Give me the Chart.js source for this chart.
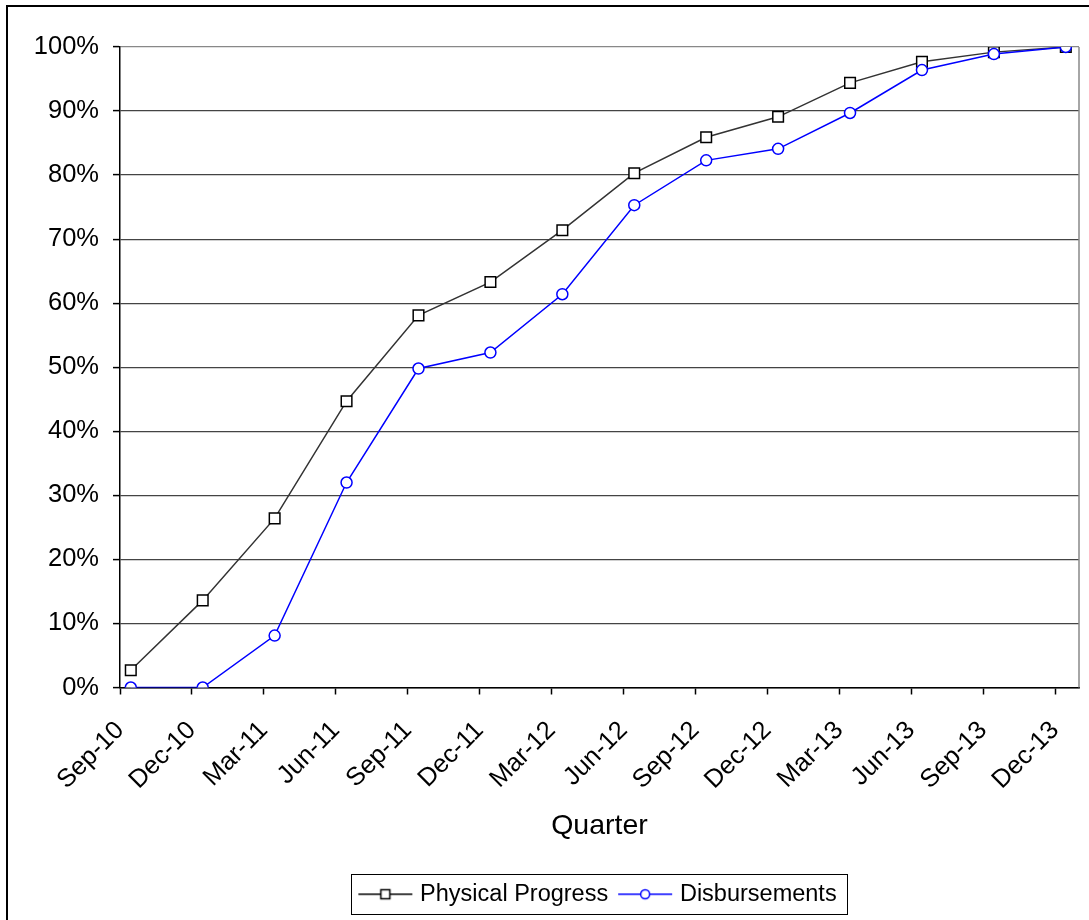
<!DOCTYPE html>
<html>
<head>
<meta charset="utf-8">
<script src="https://cdn.jsdelivr.net/npm/chart.js@4"></script>
<style>
html, body { margin: 0; padding: 0; background: #fff; }
</style>
</head>
<body>
<canvas id="progressChart" width="1089" height="920"></canvas>
<script>
const quarters = ['Sep-10', 'Dec-10', 'Mar-11', 'Jun-11', 'Sep-11', 'Dec-11', 'Mar-12',
                  'Jun-12', 'Sep-12', 'Dec-12', 'Mar-13', 'Jun-13', 'Sep-13', 'Dec-13'];
const physicalProgress = [2.7, 13.6, 26.4, 44.7, 58.1, 63.3, 71.4, 80.3, 85.9, 89.1, 94.4, 97.7, 99.2, 100];
const disbursements = [0, 0, 8.1, 32.0, 49.8, 52.3, 61.4, 75.3, 82.3, 84.1, 89.7, 96.4, 98.9, 100];

// x axis runs in months from Sep-10; values are reported mid-month
const MONTHS_PER_QUARTER = 3;
const MID_MONTH = 0.45;
const X_MAX = 40;

const FONT = 'Liberation Sans, Arial, sans-serif';

function toPoints(values) {
    return values.map((v, i) => ({ x: i * MONTHS_PER_QUARTER + MID_MONTH, y: v }));
}

// legend icon: short line with the marker in the middle
function legendIcon(color, shape) {
    const c = document.createElement('canvas');
    c.width = 56; c.height = 16;
    const g = c.getContext('2d');
    g.strokeStyle = color; g.lineWidth = 1.5;
    g.beginPath(); g.moveTo(1, 8); g.lineTo(55, 8); g.stroke();
    g.fillStyle = '#fff';
    g.beginPath();
    if (shape === 'rect') g.rect(23.5, 3.5, 9, 9);
    else g.arc(28, 8, 4.5, 0, Math.PI * 2);
    g.fill(); g.stroke();
    return c;
}
const icons = [legendIcon('#000', 'rect'), legendIcon('#0000ff', 'circle')];

const framePlugin = {
    id: 'frame',
    beforeDraw(chart) {
        const ctx = chart.ctx;
        ctx.save();
        ctx.fillStyle = '#fff';
        ctx.fillRect(0, 0, chart.width, chart.height);
        ctx.restore();
    },
    afterDraw(chart) {
        const ctx = chart.ctx;
        const a = chart.chartArea;
        ctx.save();
        // outer frame (left and top edges visible)
        ctx.strokeStyle = '#000';
        ctx.lineWidth = 2;
        ctx.beginPath();
        ctx.moveTo(7, chart.height);
        ctx.lineTo(7, 6);
        ctx.lineTo(chart.width, 6);
        ctx.stroke();
        // plot area right edge
        ctx.strokeStyle = '#888';
        ctx.lineWidth = 1.5;
        ctx.beginPath();
        ctx.moveTo(a.right, a.top);
        ctx.lineTo(a.right, a.bottom);
        ctx.stroke();
        // legend box
        const hb = chart.legend.legendHitBoxes;
        if (hb && hb.length) {
            const first = hb[0], last = hb[hb.length - 1];
            const cy = first.top + first.height / 2;
            const left = first.left - 11;
            const right = last.left + last.width + 11;
            ctx.strokeStyle = '#000';
            ctx.lineWidth = 1;
            ctx.strokeRect(Math.round(left) + 0.5, Math.round(cy - 20) + 0.5, Math.round(right - left), 40);
        }
        ctx.restore();
    }
};

const lineChart = new Chart(document.getElementById('progressChart'), {
    type: 'line',
    data: {
        datasets: [
            {
                label: 'Physical Progress',
                data: toPoints(physicalProgress),
                borderColor: '#333',
                borderWidth: 1.5,
                pointStyle: 'rect',
                pointRadius: 7.5,
                pointBorderWidth: 1.5,
                pointBorderColor: '#000',
                pointBackgroundColor: '#fff',
                tension: 0,
                order: 1
            },
            {
                label: 'Disbursements',
                data: toPoints(disbursements),
                borderColor: '#0000ff',
                borderWidth: 1.5,
                pointStyle: 'circle',
                pointRadius: 5.5,
                pointBorderWidth: 1.5,
                pointBorderColor: '#0000ff',
                pointBackgroundColor: '#fff',
                tension: 0,
                order: 0
            }
        ]
    },
    options: {
        responsive: false,
        animation: false,
        devicePixelRatio: 1,
        layout: { padding: { left: 20, right: 10, top: 47, bottom: 4 } },
        scales: {
            x: {
                type: 'linear',
                min: 0,
                max: X_MAX,
                afterFit(scale) {
                    scale.height = 181;
                    scale.paddingRight = 0;
                },
                afterBuildTicks(scale) {
                    scale.ticks = quarters.map((q, i) => ({ value: i * MONTHS_PER_QUARTER }));
                },
                ticks: {
                    autoSkip: false,
                    minRotation: 45,
                    maxRotation: 45,
                    padding: 21,
                    color: '#000',
                    font: { family: FONT, size: 25.5 },
                    callback: (v) => quarters[Math.round(v / MONTHS_PER_QUARTER)]
                },
                grid: {
                    drawOnChartArea: false,
                    tickLength: 7,
                    tickColor: '#000',
                    tickWidth: 1.5
                },
                border: { color: '#000', width: 1.5 },
                title: {
                    display: true,
                    text: 'Quarter',
                    color: '#000',
                    font: { family: FONT, size: 28.5 },
                    padding: { top: 0, bottom: 25 }
                }
            },
            y: {
                min: 0,
                max: 100,
                afterFit(scale) { scale.width = 100; },
                ticks: {
                    stepSize: 10,
                    padding: 14,
                    color: '#000',
                    font: { family: FONT, size: 25.5 },
                    callback: (v) => v + '%'
                },
                grid: {
                    color: (ctx) => ctx.tick && ctx.tick.value === 100 ? '#888' : '#444',
                    lineWidth: 1.2,
                    tickLength: 7,
                    tickColor: '#000',
                    tickWidth: 1.5
                },
                border: { color: '#000', width: 1.5 }
            }
        },
        plugins: {
            tooltip: { enabled: false },
            legend: {
                position: 'bottom',
                fullSize: false,
                labels: {
                    color: '#000',
                    font: { family: FONT, size: 23.5 },
                    usePointStyle: true,
                    pointStyleWidth: 46,
                    padding: 14,
                    sort: (a, b) => a.datasetIndex - b.datasetIndex,
                    generateLabels(chart) {
                        const items = Chart.defaults.plugins.legend.labels.generateLabels(chart);
                        items.forEach((it) => { it.pointStyle = icons[it.datasetIndex]; });
                        return items;
                    }
                }
            }
        }
    },
    plugins: [framePlugin]
});
</script>
</body>
</html>
